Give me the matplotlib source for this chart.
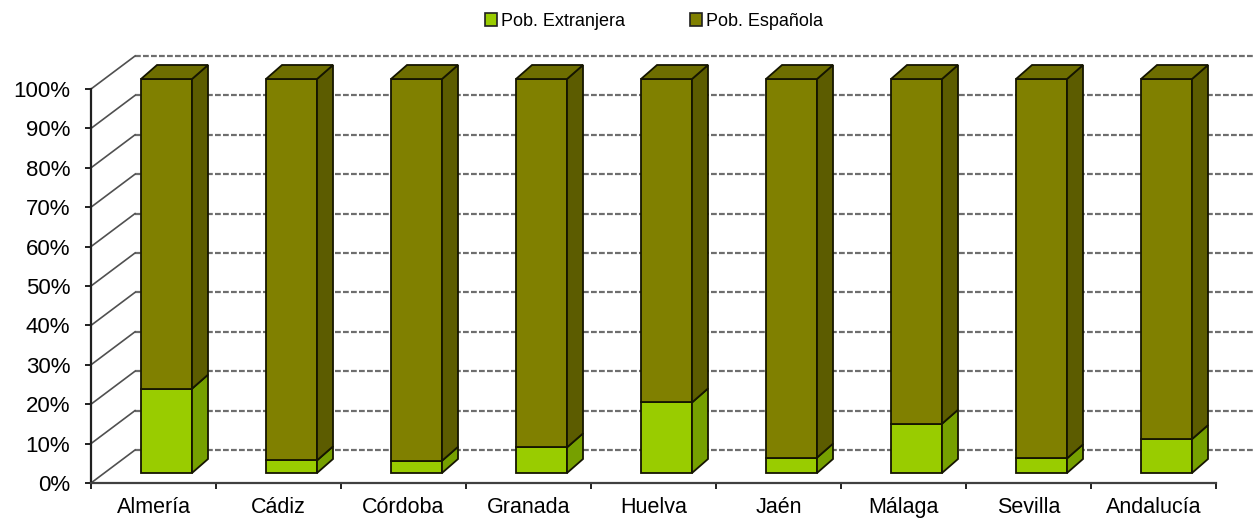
import matplotlib
matplotlib.use("Agg")
import matplotlib.pyplot as plt
from matplotlib.patches import Polygon, Patch
import numpy as np

plt.rcParams['font.family'] = ['Liberation Sans', 'DejaVu Sans']

categories = ["Almería", "Cádiz", "Córdoba", "Granada", "Huelva", "Jaén", "Málaga", "Sevilla", "Andalucía"]
pob_extranjera = [21.4, 3.2, 3.1, 6.5, 17.9, 3.9, 12.5, 3.7, 8.6]
pob_espanola = [78.6, 96.8, 96.9, 93.5, 82.1, 96.1, 87.5, 96.3, 91.4]
series_labels = ["Pob. Extranjera", "Pob. Española"]
ytick_vals = [0, 10, 20, 30, 40, 50, 60, 70, 80, 90, 100]

W, H = 1255, 521
fig = plt.figure(figsize=(W / 100, H / 100), dpi=100)
ax = fig.add_axes([91 / W, 38 / H, 1125 / W, 394 / H])
n = len(categories)
ax.set_xlim(-0.5, n - 0.5)
ax.set_ylim(0, 1)

# 3D geometry (in data units)
px_x = 1 / 125.0
px_y = 1 / 394.0
wall_dx, wall_dy = 44 * px_x, 33 * px_y
bar_offx, bar_offy = 13 * px_x, 10 * px_y
bar_w = 51 * px_x
dep_dx, dep_dy = 16 * px_x, 14 * px_y

grid_col = '#6e6e6e'
# back wall dashed gridlines and left-wall diagonals
for v in ytick_vals:
    y = v / 100
    ax.plot([-0.5 + wall_dx, n - 0.5 + wall_dx], [y + wall_dy, y + wall_dy],
            color=grid_col, lw=1.6, dashes=(2.6, 1.0), clip_on=False, zorder=1)
    ax.plot([-0.5, -0.5 + wall_dx], [y, y + wall_dy], color='#505050', lw=1.2,
            clip_on=False, zorder=1)

colors_front = ['#99CC00', '#808000']
colors_side = ['#76A000', '#5C5C00']
colors_top = ['#A8D400', '#6E6E00']
edge = '#151500'

xs = np.arange(n)
bottoms = [bar_offy] * n
for s, vals in enumerate([pob_extranjera, pob_espanola]):
    hs = [v / 100 for v in vals]
    ax.bar(xs + bar_offx, hs, width=bar_w, bottom=bottoms, color=colors_front[s],
           edgecolor=edge, linewidth=1.3, zorder=3, clip_on=False)
    for i in range(n):
        xl = i + bar_offx - bar_w / 2
        xr = i + bar_offx + bar_w / 2
        yb = bottoms[i]
        yt = yb + hs[i]
        side = Polygon([(xr, yb), (xr + dep_dx, yb + dep_dy), (xr + dep_dx, yt + dep_dy), (xr, yt)],
                       closed=True, facecolor=colors_side[s], edgecolor=edge, lw=1.3,
                       zorder=3, clip_on=False)
        ax.add_patch(side)
        if s == 1:
            top = Polygon([(xl, yt), (xr, yt), (xr + dep_dx, yt + dep_dy), (xl + dep_dx, yt + dep_dy)],
                          closed=True, facecolor=colors_top[s], edgecolor=edge, lw=1.3,
                          zorder=3, clip_on=False)
            ax.add_patch(top)
    bottoms = [b + h for b, h in zip(bottoms, hs)]

# axes styling
for sp in ['top', 'right']:
    ax.spines[sp].set_visible(False)
ax.spines['left'].set_color('#202020')
ax.spines['bottom'].set_color('#404040')
for sp in ['left', 'bottom']:
    ax.spines[sp].set_linewidth(1.6)
    ax.spines[sp].set_zorder(5)

ax.set_yticks([v / 100 for v in ytick_vals])
ax.set_yticklabels([f"{v}%" for v in ytick_vals], fontsize=16)
ax.tick_params(axis='y', direction='out', length=4, width=1.4, color='#202020', pad=11)

ax.set_xticks(np.arange(-0.5, n, 1.0))
ax.set_xticklabels([])
ax.set_xticks(xs, minor=True)
ax.set_xticklabels(categories, minor=True, fontsize=15.5)
ax.tick_params(axis='x', which='major', direction='out', length=4, width=1.4, color='#202020')
ax.tick_params(axis='x', which='minor', length=0, pad=10)

handles = [Patch(facecolor=colors_front[0], edgecolor='#202020', lw=1.2),
           Patch(facecolor=colors_front[1], edgecolor='#202020', lw=1.2)]
fig.legend(handles, series_labels, loc='center', bbox_to_anchor=(0.521, 1 - 21 / H),
           ncol=2, frameon=False, fontsize=13, handlelength=0.7, handleheight=0.7,
           handletextpad=0.2, columnspacing=3.6)

fig.savefig("out.png", dpi=100)
